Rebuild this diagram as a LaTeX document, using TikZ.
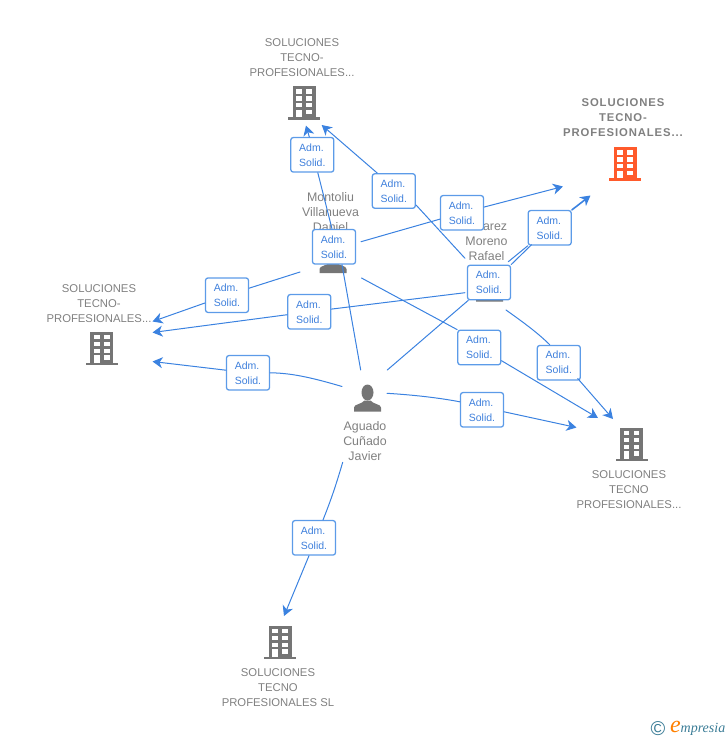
\documentclass[tikz,border=0pt]{standalone}
\usepackage{fontspec}
\setmainfont{Liberation Sans}
\newfontfamily\hlfont[LetterSpace=8]{Liberation Sans}
\newfontfamily\markfont{Liberation Serif}
\usetikzlibrary{arrows.meta}
\definecolor{linkblue}{HTML}{3B82E0}
\definecolor{boxblue}{HTML}{5C9BE8}
\definecolor{inkblue}{HTML}{3F80DC}
\definecolor{icongray}{HTML}{757575}
\definecolor{textgray}{HTML}{808080}
\definecolor{hlorange}{HTML}{FF5A2B}
\definecolor{markteal}{HTML}{3A7C96}
\tikzset{
  link/.style={color=linkblue,line width=1pt},
  linkto/.style={link,-{Stealth[length=10pt,width=11pt,inset=3pt]}},
  adm/.style={draw=boxblue,line width=1.3pt,fill=white,rounded corners=2.5pt,minimum width=43pt,minimum height=34.5pt,inner sep=0pt,align=left,text=inkblue,font=\fontsize{10.5}{15}\selectfont},
  company/.style={align=center,text=textgray,inner sep=0pt,font=\fontsize{11.3}{15}\selectfont},
  companyhl/.style={align=center,text=textgray,inner sep=0pt,font=\hlfont\bfseries\fontsize{11.3}{15}\selectfont},
  person/.style={align=center,text=textgray,inner sep=0pt,font=\fontsize{12.4}{15}\selectfont}
}
\newcommand{\buildicon}[3]{
  \begin{scope}[shift={(#1,#2)}]
    \fill[#3] (-11.5,0) rectangle (11.5,31);
    \fill[#3] (-16,31) rectangle (16,33.5);
    \fill[white] (-7.8,3.3) rectangle (-2.2,7.7);
    \fill[white] (2.2,3.3) rectangle (7.8,7.7);
    \fill[white] (-7.8,10.3) rectangle (-2.2,14.7);
    \fill[white] (2.2,10.3) rectangle (7.8,14.7);
    \fill[white] (-7.8,17) rectangle (-2.2,21.3);
    \fill[white] (2.2,17) rectangle (7.8,21.3);
    \fill[white] (-7.8,23.7) rectangle (-2.2,31);
    \fill[white] (2.2,23.7) rectangle (7.8,28);
  \end{scope}
}
\newcommand{\personicon}[2]{
  \begin{scope}[shift={(#1,#2)}]
    \fill[icongray] (0,-6) ellipse (6 and 8);
    \fill[icongray] (-13.5,13.2) -- (-13.5,9) .. controls (-13.5,5.5) and (-6,6) .. (-3,2) -- (3,2) .. controls (6,6) and (13.5,5.5) .. (13.5,9) -- (13.5,13.2) -- cycle;
  \end{scope}
}

\begin{document}
\begin{tikzpicture}[x=1pt,y=-1pt,line cap=round,line join=round]
  \useasboundingbox (0,0) rectangle (728,740);

  \buildicon{304}{86}{icongray}
  \buildicon{625}{147}{hlorange}
  \buildicon{101.7}{331.7}{icongray}
  \buildicon{631.5}{427.5}{icongray}
  \buildicon{280}{625.5}{icongray}
  \personicon{367.5}{398.5}
  \personicon{333}{260}
  \personicon{489.5}{288.5}

  \node[company] (topname) at (302,57.8) {SOLUCIONES\\TECNO-\\PROFESIONALES...};
  \node[companyhl] (mainname) at (623,117.8) {SOLUCIONES\\TECNO-\\PROFESIONALES...};
  \node[company] (leftname) at (99,303.8) {SOLUCIONES\\TECNO-\\PROFESIONALES...};
  \node[company] (rightname) at (629,489.8) {SOLUCIONES\\TECNO\\PROFESIONALES...};
  \node[company] (bottomname) at (278,687.8) {SOLUCIONES\\TECNO\\PROFESIONALES SL};
  \node[person] (aguado) at (365,441.5) {Aguado\\Cuñado\\Javier};
  \node[person] (montoliu) at (330.5,212.5) {Montoliu\\Villanueva\\Daniel};
  \node[person] (alvarez) at (486.5,241.5) {Alvarez\\Moreno\\Rafael};

  \node[adm] (adm1) at (312.3,154.8) {Adm.\\Solid.};
  \node[adm] (adm2) at (393.8,191) {Adm.\\Solid.};
  \node[adm] (adm3) at (462,212.8) {Adm.\\Solid.};
  \node[adm] (adm4) at (549.7,227.8) {Adm.\\Solid.};
  \node[adm] (adm5) at (334,246.8) {Adm.\\Solid.};
  \node[adm] (adm6) at (489,282.5) {Adm.\\Solid.};
  \node[adm] (adm7) at (227,295.2) {Adm.\\Solid.};
  \node[adm] (adm8) at (309.3,311.8) {Adm.\\Solid.};
  \node[adm] (adm9) at (479.3,347.5) {Adm.\\Solid.};
  \node[adm] (adm10) at (558.8,362.7) {Adm.\\Solid.};
  \node[adm] (adm11) at (248,372.8) {Adm.\\Solid.};
  \node[adm] (adm12) at (482,409.8) {Adm.\\Solid.};
  \node[adm] (adm13) at (314,537.8) {Adm.\\Solid.};

  \coordinate (agup) at (360.7,370);
  \coordinate (agright) at (387.3,370);
  \coordinate (agleft) at (342,386.5);
  \coordinate (agside) at (387,393.3);
  \coordinate (agdown) at (342.7,462.3);
  \coordinate (monright) at (361,241.7);
  \coordinate (monleft) at (300,272);
  \coordinate (mondown) at (361.5,278);
  \coordinate (alvup) at (465,258.3);
  \coordinate (alvleft) at (465,292.7);
  \coordinate (alvright) at (508.3,261.7);
  \coordinate (alvdown) at (506,310);
  \coordinate (topa) at (306,125.5);
  \coordinate (topb) at (321.7,125);
  \coordinate (maina) at (563,186.5);
  \coordinate (mainb) at (590.5,195.5);
  \coordinate (lefta) at (152.5,321.5);
  \coordinate (leftb) at (152.5,332.5);
  \coordinate (leftc) at (152.5,361.5);
  \coordinate (righta) at (576.5,427.5);
  \coordinate (rightb) at (598,418);
  \coordinate (rightc) at (613,419);
  \coordinate (bottoma) at (284,616);

  \draw[link] (agup) -- ([xshift=8]adm5.south);
  \draw[link] ([xshift=-2]adm5.north) -- ([xshift=5.5]adm1.south);
  \draw[linkto] ([xshift=-3]adm1.north) -- (topa);
  \draw[link] (alvup) -- ([yshift=4]adm2.south east);
  \draw[linkto] ([xshift=-16.5]adm2.north) -- (topb);
  \draw[link] (monright) -- (adm3);
  \draw[linkto] (adm3) -- (maina);
  \draw[link] (alvright) -- (adm4);
  \draw[link] (adm6.north east) -- ([xshift=4,yshift=1]adm4.south west);
  \draw[linkto,line width=1.6pt] (adm4.north east) -- (mainb);
  \draw[link] (agright) -- (adm6);
  \draw[link] (monleft) -- (adm7);
  \draw[linkto] (adm7) -- (lefta);
  \draw[link] (alvleft) -- (adm8);
  \draw[linkto] (adm8) -- (leftb);
  \draw[link] (agleft) .. controls (310,377) and (290,373) .. (adm11.east);
  \draw[linkto] (adm11) -- (leftc);
  \draw[link] (mondown) -- (adm9.north west);
  \draw[linkto] (adm9) -- (rightb);
  \draw[link] (alvdown) .. controls (520,320) and (537,332) .. ([xshift=-9]adm10.north);
  \draw[linkto] ([xshift=19,yshift=2]adm10.south) -- (rightc);
  \draw[link] (agside) .. controls (415,395) and (440,398) .. ([yshift=8]adm12.west);
  \draw[linkto] ([yshift=-2]adm12.east) -- (righta);
  \draw[link] (agdown) .. controls (336,485) and (331,500) .. ([xshift=9]adm13.north);
  \draw[linkto] ([xshift=-5]adm13.south) -- (bottoma);

  \node[inner sep=0pt,text=markteal,font=\fontsize{20}{20}\selectfont] (markc) at (658,728.5) {©};
  \node[inner sep=0pt,text=orange,font=\markfont\itshape\fontsize{24}{24}\selectfont] (marke) at (675.5,727) {e};
  \node[inner sep=0pt,text=markteal,font=\markfont\itshape\fontsize{14}{14}\selectfont] (markt) at (703,729.5) {mpresia};
\end{tikzpicture}
\end{document}
